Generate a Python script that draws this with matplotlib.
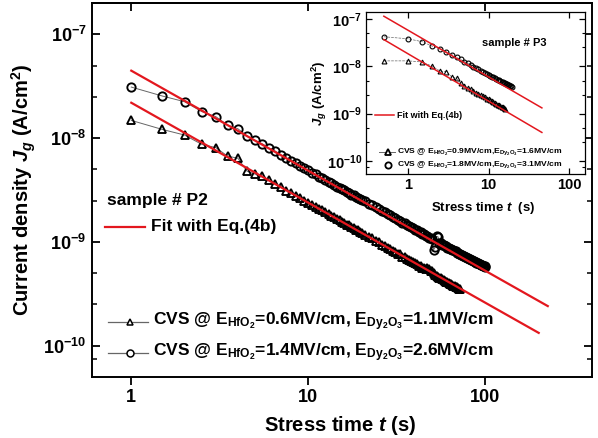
import matplotlib
matplotlib.use("Agg")
import matplotlib.pyplot as plt
from matplotlib.lines import Line2D
import numpy as np

plt.rcParams['font.family'] = ['Liberation Sans', 'DejaVu Sans']
plt.rcParams['font.weight'] = 'bold'
plt.rcParams['mathtext.fontset'] = 'custom'
plt.rcParams['mathtext.rm'] = 'Liberation Sans:bold'
plt.rcParams['mathtext.it'] = 'Liberation Sans:italic:bold'
plt.rcParams['mathtext.bf'] = 'Liberation Sans:bold'

# ---------------- data: sample P2 (main plot), J in units of 1e-9 A/cm^2 ----------------
p2_circ_t = [1, 1.5, 2, 2.5, 3, 3.5, 4, 4.5, 5, 5.5, 6, 6.5, 7, 7.5, 8, 8.5, 9, 9.5, 10,
             10.5, 11, 11.5, 12, 12.5, 13, 13.5, 14, 14.5, 15, 15.5, 16, 16.5, 17, 17.5,
             18, 18.5, 19, 19.5, 20,
             21, 22, 23, 24, 25, 26, 27, 28, 29, 30, 31, 32, 33, 34, 35, 36, 37, 38, 39, 40,
             41, 42, 43, 44, 45, 46, 47, 48, 49, 50, 51, 52, 53, 54, 55, 56, 57, 58, 59, 60,
             61, 62, 63, 64, 65, 66, 67, 68, 69, 70, 71, 72, 73, 74, 75, 76, 77, 78, 79, 80,
             81, 82, 83, 84, 85, 86, 87, 88, 89, 90, 91, 92, 93, 94, 95, 96, 97, 98, 99, 100]
p2_circ_J = [31.0, 25.4, 22.4, 18.0, 16.1, 13.3, 12.3, 10.5, 9.5, 8.8, 8.0, 7.5, 6.9, 6.45,
             6.05, 5.7, 5.38, 5.14, 4.88, 4.64, 4.46, 4.26, 4.11, 3.94, 3.81, 3.66, 3.55,
             3.41, 3.32, 3.20, 3.13, 3.02, 2.95, 2.85, 2.80, 2.71, 2.66, 2.57, 2.53,
             2.47, 2.34, 2.26, 2.15, 2.09, 1.99, 1.94, 1.85, 1.81, 1.73,
             1.70, 1.62, 1.60, 1.53, 1.51, 1.45, 1.43, 1.38, 1.36, 1.31,
             1.30, 1.25, 1.24, 1.20, 1.19, 1.15, 1.14, 1.10, 1.10, 1.06,
             0.84, 0.89, 1.13, 1.12, 0.98, 0.97, 0.94, 0.94, 0.91, 0.91,
             0.88, 0.88, 0.85, 0.86, 0.83, 0.83, 0.81, 0.81, 0.78, 0.79,
             0.76, 0.77, 0.74, 0.75, 0.73, 0.73, 0.71, 0.72, 0.70, 0.70,
             0.68, 0.69, 0.67, 0.67, 0.655, 0.655, 0.64, 0.645, 0.63, 0.63,
             0.625, 0.615, 0.61, 0.605, 0.60, 0.595, 0.59, 0.585, 0.58, 0.57]

p2_tri_t = [1, 1.5, 2, 2.5, 3, 3.5, 4, 4.5, 5, 5.5, 6, 6.5, 7, 7.5, 8, 8.5, 9, 9.5, 10,
            10.5, 11, 11.5, 12, 12.5, 13, 13.5, 14, 14.5, 15, 15.5, 16, 16.5, 17, 17.5,
            18, 18.5, 19, 19.5, 20,
            21, 22, 23, 24, 25, 26, 27, 28, 29, 30, 31, 32, 33, 34, 35, 36, 37, 38, 39, 40,
            41, 42, 43, 44, 45, 46, 47, 48, 49, 50, 51, 52, 53, 54, 55, 56, 57, 58, 59, 60,
            61, 62, 63, 64, 65, 66, 67, 68, 69, 70, 71, 72]
p2_tri_J = [14.8, 12.1, 10.7, 8.7, 8.1, 6.7, 6.4, 4.8, 4.5, 4.3, 3.95, 3.62, 3.38, 3.12,
            2.96, 2.78, 2.65, 2.49, 2.39, 2.27, 2.18, 2.08, 2.01, 1.92, 1.86, 1.78, 1.74,
            1.66, 1.63, 1.56, 1.53, 1.47, 1.44, 1.39, 1.37, 1.31, 1.30, 1.25, 1.23,
            1.17, 1.11, 1.08, 1.02, 0.99, 0.94, 0.92, 0.87, 0.86, 0.82,
            0.80, 0.77, 0.76, 0.72, 0.71, 0.69, 0.675, 0.65, 0.645, 0.62,
            0.61, 0.59, 0.585, 0.565, 0.555, 0.545, 0.555, 0.545, 0.53, 0.52,
            0.50, 0.485, 0.47, 0.46, 0.45, 0.445, 0.44, 0.43, 0.42, 0.41,
            0.41, 0.40, 0.395, 0.39, 0.385, 0.38, 0.375, 0.37, 0.365, 0.36,
            0.355, 0.35]

# fit lines (end points) for P2
p2_fit_hi_t = [1, 225]
p2_fit_hi_J = [4.46e-8, 2.41e-10]
p2_fit_lo_t = [1, 200]
p2_fit_lo_J = [2.19e-8, 1.33e-10]

# ---------------- data: sample P3 (inset), J in units of 1e-9 A/cm^2 ----------------
p3_circ_t = [0.5, 1, 1.5, 2, 2.5, 3, 3.5, 4, 4.5, 5, 5.5, 6, 6.5, 7, 7.5, 8, 8.5, 9, 9.5,
             10, 10.5, 11, 11.5, 12, 12.5, 13, 13.5, 14, 14.5, 15, 15.5, 16, 16.5, 17,
             17.5, 18, 18.5, 19, 19.5]
p3_circ_J = [42, 38, 33, 26.5, 23.6, 20.3, 17.6, 15.5, 13.9, 12.6, 11.5, 10.6, 9.83, 9.17,
             8.60, 8.10, 7.66, 7.27, 6.92, 6.60, 6.31, 6.05, 5.82, 5.60, 5.40, 5.22, 5.04,
             4.89, 4.74, 4.60, 4.47, 4.35, 4.24, 4.13, 4.03, 3.93, 3.84, 3.76, 3.68]
p3_tri_t = [0.5, 1, 1.5, 2, 2.5, 3, 3.5, 4, 4.5, 5, 5.5, 6, 6.5, 7, 7.5, 8, 8.5, 9, 9.5,
            10, 10.5, 11, 11.5, 12, 12.5, 13, 13.5, 14, 14.5, 15, 15.5, 16]
p3_tri_J = [13.0, 13.0, 12.3, 10.0, 7.9, 7.7, 5.9, 5.6, 4.4, 3.9, 3.5, 3.25, 3.0, 2.79,
            2.61, 2.46, 2.32, 2.19, 2.08, 1.99, 1.90, 1.81, 1.74, 1.67, 1.61, 1.55, 1.50,
            1.45, 1.40, 1.36, 1.32, 1.28]
p3_fit_hi_t = [0.5, 46]
p3_fit_hi_J = [1.14e-7, 1.32e-9]
p3_fit_lo_t = [0.5, 46]
p3_fit_lo_J = [3.66e-8, 4.0e-10]

main_major_y = [1e-10, 1e-9, 1e-8, 1e-7]
main_major_ylabels = [r'$\mathbf{10^{-10}}$', r'$\mathbf{10^{-9}}$', r'$\mathbf{10^{-8}}$', r'$\mathbf{10^{-7}}$']
minor_y = [7.5e-11, 2.5e-10, 5e-10, 2.5e-9, 5e-9, 2.5e-8, 5e-8]
major_x = [1, 10, 100]
major_xlabels = ['1', '10', '100']

RED = '#e3171e'
GREY = '#666666'
scale = 1e-9

W, H = 598, 438
fig = plt.figure(figsize=(W / 100, H / 100), dpi=100)

def fx(px):
    return px / W

def fy(py):
    return 1 - py / H

# ---------------- main axes ----------------
ax = fig.add_axes([fx(92), fy(377), fx(592) - fx(92), fy(3) - fy(377)])
ax.set_xscale('log')
ax.set_yscale('log')
ax.set_xlim(0.6, 400)
ax.set_ylim(5e-11, 2e-7)

ax.plot(p2_tri_t, np.array(p2_tri_J) * scale, '-', color=GREY, lw=0.7, zorder=2)
ax.plot(p2_tri_t, np.array(p2_tri_J) * scale, '^', ms=6, mfc='none', mec='black', mew=1.35,
        ls='none', zorder=3)
ax.plot(p2_circ_t, np.array(p2_circ_J) * scale, '-', color=GREY, lw=0.7, zorder=2)
ax.plot(p2_circ_t, np.array(p2_circ_J) * scale, 'o', ms=6, mfc='none', mec='black', mew=1.35,
        ls='none', zorder=3)
ax.plot(p2_fit_hi_t, p2_fit_hi_J, '-', color=RED, lw=1.6, zorder=4)
ax.plot(p2_fit_lo_t, p2_fit_lo_J, '-', color=RED, lw=1.6, zorder=4)

ax.set_xticks(major_x)
ax.set_xticklabels(major_xlabels)
ax.xaxis.set_minor_locator(matplotlib.ticker.NullLocator())
ax.set_yticks(main_major_y)
ax.set_yticklabels(main_major_ylabels)
ax.set_yticks(minor_y, minor=True)
ax.yaxis.set_minor_formatter(matplotlib.ticker.NullFormatter())
ax.tick_params(axis='x', which='major', direction='out', length=6, width=1.3,
               labelsize=13, pad=3, top=False)
ax.tick_params(axis='y', which='major', direction='in', length=6, width=1.3,
               labelsize=13, pad=4, right=True)
ax.tick_params(axis='y', which='minor', direction='in', length=3.5, width=1.1, right=True)
# top ticks inward
ax_top = ax.secondary_xaxis('top')
ax_top.set_xticks(major_x)
ax_top.tick_params(direction='in', length=6, width=1.3, labeltop=False)
ax_top.xaxis.set_minor_locator(matplotlib.ticker.NullLocator())
ax_top.spines['top'].set_linewidth(1.4)
for s in ax.spines.values():
    s.set_linewidth(1.4)

ax.set_xlabel(r'Stress time $t$ (s)', fontsize=14.5, fontweight='bold')
ax.xaxis.set_label_coords(0.496, -0.100)
ax.set_ylabel(r'Current density $J_g$ (A/cm$^{\mathbf{2}}$)', fontsize=14.5, fontweight='bold')
ax.yaxis.set_label_coords(-0.108, 0.5)

# main legend (manual)
fig.text(fx(107), fy(200), 'sample # P2', fontsize=12.5, fontweight='bold', va='center')
fig.add_artist(Line2D([fx(105), fx(145)], [fy(227), fy(227)], color=RED, lw=1.6))
fig.text(fx(151), fy(227), 'Fit with Eq.(4b)', fontsize=12.5, fontweight='bold', va='center')
for yy, mk, txt in [
        (322, '^', r'CVS @ E$_{\mathbf{HfO_2}}$=0.6MV/cm, E$_{\mathbf{Dy_2O_3}}$=1.1MV/cm'),
        (353, 'o', r'CVS @ E$_{\mathbf{HfO_2}}$=1.4MV/cm, E$_{\mathbf{Dy_2O_3}}$=2.6MV/cm')]:
    fig.add_artist(Line2D([fx(108), fx(148)], [fy(yy), fy(yy)], color=GREY, lw=0.9))
    fig.add_artist(Line2D([fx(130)], [fy(yy)], marker=mk, ms=5, mfc='white', mec='black',
                          mew=1.1, ls='none'))
    fig.text(fx(153), fy(yy), txt, fontsize=12.5, fontweight='bold', va='center')

# ---------------- inset ----------------
ai = fig.add_axes([fx(366), fy(174), fx(585) - fx(366), fy(12) - fy(174)])
ai.set_xscale('log')
ai.set_yscale('log')
ai.set_xlim(0.3, 158)
ai.set_ylim(5.3e-11, 1.4e-7)
ai.plot(p3_tri_t, np.array(p3_tri_J) * scale, '--', color=GREY, lw=0.5, zorder=2)
ai.plot(p3_tri_t, np.array(p3_tri_J) * scale, '^', ms=3.5, mfc='none', mec='black', mew=0.8,
        ls='none', zorder=3)
ai.plot(p3_circ_t, np.array(p3_circ_J) * scale, '--', color=GREY, lw=0.5, zorder=2)
ai.plot(p3_circ_t, np.array(p3_circ_J) * scale, 'o', ms=3.5, mfc='none', mec='black', mew=0.8,
        ls='none', zorder=3)
ai.plot(p3_fit_hi_t, p3_fit_hi_J, '-', color=RED, lw=1.1, zorder=4)
ai.plot(p3_fit_lo_t, p3_fit_lo_J, '-', color=RED, lw=1.1, zorder=4)
ai.set_xticks(major_x)
ai.set_xticklabels(major_xlabels)
ai.xaxis.set_minor_locator(matplotlib.ticker.NullLocator())
ai.set_yticks(main_major_y)
ai.set_yticklabels(main_major_ylabels)
ai.set_yticks(minor_y, minor=True)
ai.yaxis.set_minor_formatter(matplotlib.ticker.NullFormatter())
ai.tick_params(which='major', direction='in', length=4, width=0.9, labelsize=10.5,
               top=True, right=True, pad=3)
ai.tick_params(which='minor', direction='in', length=2.5, width=0.8, right=True)
for s in ai.spines.values():
    s.set_linewidth(0.9)
ai.set_xlabel(r'Stress time $t$  (s)', fontsize=9.5, fontweight='bold')
ai.xaxis.set_label_coords(0.534, -0.16)
ai.set_ylabel(r'$J_g$ (A/cm$^{\mathbf{2}}$)', fontsize=9.5, fontweight='bold')
ai.yaxis.set_label_coords(-0.17, 0.5)

fig.text(fx(482), fy(43), 'sample # P3', fontsize=8, fontweight='bold', va='center')
fig.add_artist(Line2D([fx(375), fx(394)], [fy(115), fy(115)], color=RED, lw=1.1))
fig.text(fx(397), fy(115), 'Fit with Eq.(4b)', fontsize=6.5, fontweight='bold', va='center')
fig.add_artist(Line2D([fx(379), fx(395)], [fy(152), fy(152)], color=GREY, lw=0.7))
fig.add_artist(Line2D([fx(388)], [fy(152)], marker='^', ms=5, mfc='white', mec='black',
                      mew=1.3, ls='none'))
fig.text(fx(397), fy(152), r'CVS @ E$_{\mathbf{HfO_2}}$=0.9MV/cm,E$_{\mathbf{Dy_2O_3}}$=1.6MV/cm',
         fontsize=6.1, fontweight='bold', va='center')
fig.add_artist(Line2D([fx(388)], [fy(165)], marker='o', ms=4.5, mfc='white', mec='black',
                      mew=1.3, ls='none'))
fig.text(fx(397), fy(165), r'CVS @ E$_{\mathbf{HfO_2}}$=1.8MV/cm,E$_{\mathbf{Dy_2O_3}}$=3.1MV/cm',
         fontsize=6.1, fontweight='bold', va='center')

fig.savefig('out.png', dpi=100)
